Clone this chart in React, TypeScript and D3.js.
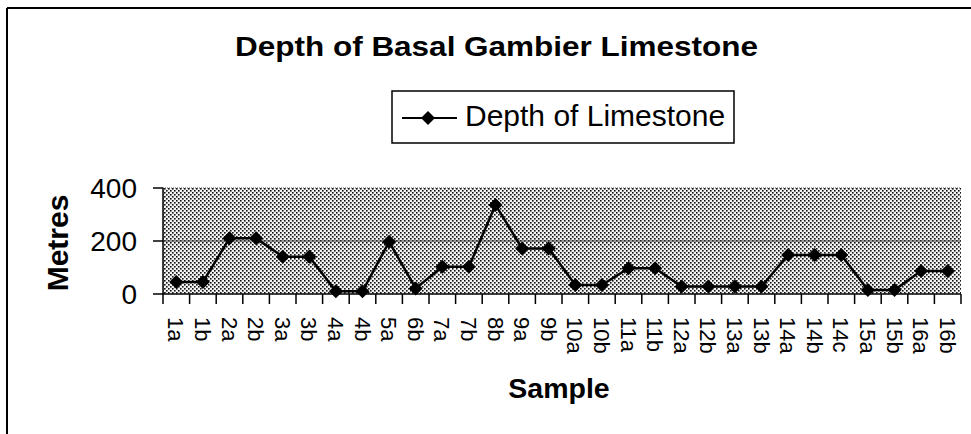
import React from "react";
import * as d3 from "d3";

const categories = ["1a","1b","2a","2b","3a","3b","4a","4b","5a","6b","7a","7b","8b","9a","9b","10a","10b","11a","11b","12a","12b","13a","13b","14a","14b","14c","15a","15b","16a","16b"];
const depths = [45,45,210,210,141,141,10,10,197,21,103,103,336,172,172,34,34,97,97,28,28,28,28,147,147,147,15,15,87,87];
const yTicks = [0, 200, 400];
const title = "Depth of Basal Gambier Limestone";
const seriesName = "Depth of Limestone";

const W = 971, H = 434;
const left = 163, right = 961, top = 188, bottom = 294;

function Diamond({ x, y, r }: { x: number; y: number; r: number }) {
  return <path d={`M${x},${y - r}L${x + r},${y}L${x},${y + r}L${x - r},${y}Z`} fill="#000" />;
}

export default function App() {
  const x = d3.scaleBand<string>().domain(categories).range([left, right]);
  const y = d3.scaleLinear().domain([0, 400]).range([bottom, top]);
  const cx = (i: number) => (x(categories[i]) as number) + x.bandwidth() / 2;
  const line = d3.line<number>().x((_, i) => cx(i)).y((d) => y(d));
  const font = "Arial, 'Liberation Sans', sans-serif";
  return (
    <svg width={W} height={H} style={{ position: "absolute", left: 0, top: 0 }} fontFamily={font}>
      <defs>
        <pattern id="dots" width="4" height="4" patternUnits="userSpaceOnUse">
          <rect width="4" height="4" fill="#f2f2f2" />
          <rect x="0" y="0" width="1.6" height="1.6" fill="#111" />
          <rect x="2" y="2" width="1.6" height="1.6" fill="#111" />
        </pattern>
      </defs>
      <rect width={W} height={H} fill="#fff" />
      {/* outer frame */}
      <line x1={7} y1={8} x2={7} y2={H} stroke="#000" strokeWidth={2} />
      <line x1={7} y1={8} x2={W} y2={8} stroke="#000" strokeWidth={2} />
      <text x={235} y={56} fontSize={27} fontWeight="bold" textLength={523} lengthAdjust="spacingAndGlyphs">{title}</text>
      {/* legend */}
      <rect x={392} y={91} width={342} height={52} fill="#fff" stroke="#000" strokeWidth={1.5} />
      <line x1={402} y1={118} x2={457} y2={118} stroke="#000" strokeWidth={2} />
      <Diamond x={428} y={118} r={7} />
      <text x={465} y={126} fontSize={30}>{seriesName}</text>
      {/* plot area */}
      <rect x={left} y={top} width={right - left} height={bottom - top} fill="url(#dots)" />
      {yTicks.filter((t) => t > 0 && t < 400).map((t) => (
        <line key={t} x1={left} x2={right} y1={y(t)} y2={y(t)} stroke="#444" strokeWidth={1} />
      ))}
      <line x1={left} x2={right} y1={top} y2={top} stroke="#555" strokeWidth={1} strokeDasharray="1,1" />
      <line x1={left} x2={left} y1={top} y2={bottom} stroke="#000" strokeWidth={1.5} />
      <line x1={left} x2={right} y1={bottom} y2={bottom} stroke="#000" strokeWidth={1.5} />
      {yTicks.map((t) => (
        <g key={t}>
          <line x1={left - 10} x2={left} y1={y(t)} y2={y(t)} stroke="#000" strokeWidth={1.5} />
          <text x={137} y={y(t) + 10} textAnchor="end" fontSize={28}>{t}</text>
        </g>
      ))}
      {categories.map((c, i) => (
        <line key={"t" + i} x1={x(c) as number} x2={x(c) as number} y1={bottom} y2={bottom + 10} stroke="#000" strokeWidth={1.5} />
      ))}
      <line x1={right} x2={right} y1={bottom} y2={bottom + 10} stroke="#000" strokeWidth={1.5} />
      {categories.map((c, i) => (
        <text key={"l" + c} transform={`translate(${cx(i) - 8},${317}) rotate(90)`} fontSize={22}>{c}</text>
      ))}
      <path d={line(depths) || ""} fill="none" stroke="#000" strokeWidth={2.5} />
      {depths.map((d, i) => (
        <Diamond key={i} x={cx(i)} y={y(d)} r={7} />
      ))}
      <text transform={`translate(68,243) rotate(-90)`} textAnchor="middle" fontSize={30} fontWeight="bold">Metres</text>
      <text x={559} y={398} textAnchor="middle" fontSize={28.5} fontWeight="bold">Sample</text>
    </svg>
  );
}
